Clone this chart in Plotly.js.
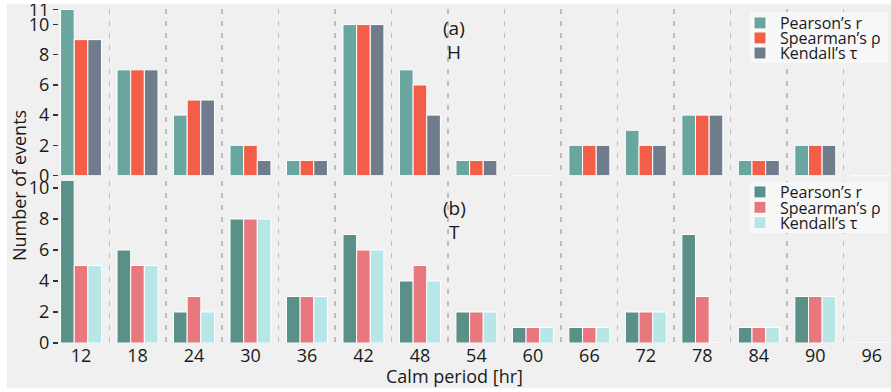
<!DOCTYPE html>
<html><head><meta charset="utf-8">
<script src="https://cdn.plot.ly/plotly-3.0.1.min.js"></script>
<style>html,body{margin:0;padding:0;background:#ffffff;} #chart{position:absolute;left:7px;top:4px;width:884px;height:384px;}</style>
</head><body><div id="chart"></div>
<script>
const categories = ['12','18','24','30','36','42','48','54','60','66','72','78','84','90','96'];
const seriesNames = ['Pearson\u2019s r','Spearman\u2019s \u03c1','Kendall\u2019s \u03c4'];
// (a) H
const hPearson  = [11, 7, 4, 2, 1, 10, 7, 1, 0, 2, 3, 4, 1, 2, 0];
const hSpearman = [ 9, 7, 5, 2, 1, 10, 6, 1, 0, 2, 2, 4, 1, 2, 0];
const hKendall  = [ 9, 7, 5, 1, 1, 10, 4, 1, 0, 2, 2, 4, 1, 2, 0];
// (b) T
const tPearson  = [11, 6, 2, 8, 3, 7, 4, 2, 1, 1, 2, 7, 1, 3, 0];
const tSpearman = [ 5, 5, 3, 8, 3, 6, 5, 2, 1, 1, 2, 3, 1, 3, 0];
const tKendall  = [ 5, 5, 2, 8, 3, 6, 4, 2, 1, 1, 2, 0, 1, 3, 0];
const topTicks = [0, 2, 4, 6, 8, 10, 11];
const bottomTicks = [0, 2, 4, 6, 8, 10];

const topColors = ['#6aa6a0', '#f45e48', '#6e7c8c'];
const bottomColors = ['#5a9088', '#e8787e', '#b6e6e6'];
const FONT = '"Open Sans", "Noto Sans", sans-serif';
const TXT = '#1a1a1a';

function barTrace(name, vals, color, xa, ya, leg) {
  return {type:'bar', name:name, x:categories, y:vals, xaxis:xa, yaxis:ya, legend:leg,
    marker:{color:color, line:{color:'#ffffff', width:1}}, hoverinfo:'x+y+name'};
}
const data = [
  barTrace(seriesNames[0], hPearson, topColors[0], 'x', 'y', 'legend2'),
  barTrace(seriesNames[1], hSpearman, topColors[1], 'x', 'y', 'legend3'),
  barTrace(seriesNames[2], hKendall, topColors[2], 'x', 'y', 'legend4'),
  barTrace(seriesNames[0], tPearson, bottomColors[0], 'x2', 'y2', 'legend5'),
  barTrace(seriesNames[1], tSpearman, bottomColors[1], 'x2', 'y2', 'legend6'),
  barTrace(seriesNames[2], tKendall, bottomColors[2], 'x2', 'y2', 'legend7')
];

const legX = 0.8185;
function leg(y) {
  return {x:legX, y:y, xanchor:'left', yanchor:'middle', bgcolor:'rgba(0,0,0,0)', borderwidth:0,
    font:{family:FONT, size:16, color:TXT}, itemwidth:30};
}
const xCommon = {type:'category', range:[-0.39, 14.34], tickson:'boundaries', showgrid:true,
  griddash:'5px,7px', gridcolor:'#bdbdbd', gridwidth:1.5, ticks:'', showline:false, zeroline:false,
  tickfont:{family:FONT, size:18, color:TXT}};
const yCommon = {showgrid:false, zeroline:false, showline:false, ticks:'outside', ticklen:5, tickwidth:1.5,
  tickcolor:'#333', tickmode:'array', tickfont:{family:FONT, size:18, color:TXT}, ticklabelstandoff:0,
  ticklabeloverflow:'allow'};

const ann = (text, x, y, extra) => Object.assign({text:text, xref:'paper', yref:'paper', x:x, y:y,
  xanchor:'center', yanchor:'middle', showarrow:false, font:{family:FONT, size:19, color:TXT}}, extra || {});

const layout = {
  width:884, height:384,
  margin:{l:52, r:0, t:5, b:45},
  paper_bgcolor:'#f0f0f0', plot_bgcolor:'#f0f0f0',
  barmode:'group', bargap:0.275, bargroupgap:0,
  font:{family:FONT, color:TXT},
  showlegend:true,
  xaxis:Object.assign({}, xCommon, {anchor:'y', showticklabels:false}),
  xaxis2:Object.assign({}, xCommon, {anchor:'y2', matches:'x', showticklabels:true}),
  yaxis:Object.assign({}, yCommon, {domain:[0.5015, 1], range:[0, 11.03], tickvals:topTicks}),
  yaxis2:Object.assign({}, yCommon, {domain:[0, 0.485], range:[0, 10.45], tickvals:bottomTicks}),
  legend2:leg(0.958), legend3:leg(0.913), legend4:leg(0.868),
  legend5:leg(0.452), legend6:leg(0.406), legend7:leg(0.360),
  shapes:[
    {type:'rect', xref:'paper', yref:'paper', x0:0.8305, x1:0.9964, y0:0.838, y1:0.991,
     fillcolor:'#f7f7f7', line:{width:0}, layer:'above'},
    {type:'rect', xref:'paper', yref:'paper', x0:0.8305, x1:0.9964, y0:0.329, y1:0.482,
     fillcolor:'#f7f7f7', line:{width:0}, layer:'above'}
  ],
  annotations:[
    ann('(a)', 0.4748, 0.943),
    ann('H', 0.4748, 0.871),
    ann('(b)', 0.4748, 0.404),
    ann('T', 0.4748, 0.332),
    ann('Number of events', -0.048, 0.47, {textangle:-90, font:{family:FONT, size:18, color:TXT}}),
    ann('Calm period [hr]', 0.4748, -0.0988, {font:{family:FONT, size:18, color:TXT}})
  ]
};
Plotly.newPlot('chart', data, layout, {displayModeBar:false, staticPlot:true});
</script></body></html>
